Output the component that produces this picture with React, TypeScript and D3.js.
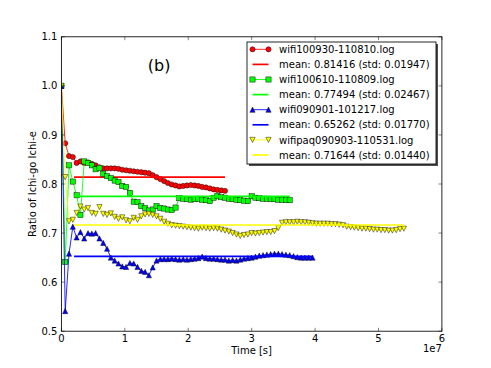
import React, { useRef, useEffect } from 'react';
import * as d3 from 'd3';

// samples are taken every SAMPLE_STEP seconds, starting at t = 0
const SAMPLE_STEP = 6e5;
const MEAN_FROM = 2e6;

const seriesNames = ['wifi100930-110810.log', 'wifi100610-110809.log', 'wifi090901-101217.log', 'wifipaq090903-110531.log'];
const meanValues = [0.81416, 0.77494, 0.65262, 0.71644];
const stdValues = [0.01947, 0.02467, 0.0177, 0.0144];

const wifi100930 = [1.0, 0.883, 0.857, 0.855, 0.843, 0.846, 0.843, 0.844, 0.841, 0.838, 0.834, 0.832, 0.832, 0.832, 0.832, 0.831, 0.829, 0.828, 0.827, 0.826, 0.825, 0.824, 0.823, 0.822, 0.818, 0.814, 0.81, 0.806, 0.802, 0.799, 0.797, 0.795, 0.796, 0.797, 0.798, 0.797, 0.796, 0.794, 0.793, 0.791, 0.789, 0.788, 0.787, 0.786];
const wifi100610 = [1.0, 0.641, 0.838, 0.805, 0.777, 0.737, 0.846, 0.843, 0.838, 0.83, 0.833, 0.821, 0.816, 0.812, 0.807, 0.804, 0.796, 0.794, 0.782, 0.764, 0.763, 0.755, 0.751, 0.746, 0.748, 0.755, 0.751, 0.75, 0.748, 0.747, 0.752, 0.771, 0.77, 0.769, 0.768, 0.769, 0.77, 0.768, 0.767, 0.765, 0.772, 0.776, 0.773, 0.772, 0.77, 0.769, 0.768, 0.767, 0.766, 0.765, 0.775, 0.772, 0.771, 0.77, 0.77, 0.769, 0.769, 0.768, 0.768, 0.767, 0.767];
const wifi090901 = [1.0, 0.541, 0.658, 0.713, 0.691, 0.702, 0.689, 0.7, 0.699, 0.7, 0.689, 0.68, 0.668, 0.65, 0.644, 0.638, 0.632, 0.631, 0.639, 0.638, 0.631, 0.623, 0.621, 0.614, 0.63, 0.644, 0.647, 0.647, 0.647, 0.648, 0.647, 0.646, 0.647, 0.646, 0.647, 0.648, 0.649, 0.652, 0.649, 0.648, 0.648, 0.647, 0.646, 0.646, 0.644, 0.645, 0.644, 0.646, 0.648, 0.649, 0.65, 0.652, 0.654, 0.655, 0.656, 0.657, 0.658, 0.658, 0.657, 0.656, 0.655, 0.653, 0.651, 0.65, 0.65, 0.65, 0.65];
const wifipaq090903 = [1.0, 0.814, 0.724, 0.727, 0.741, 0.754, 0.748, 0.751, 0.741, 0.739, 0.753, 0.739, 0.737, 0.74, 0.733, 0.729, 0.732, 0.726, 0.724, 0.731, 0.727, 0.734, 0.738, 0.739, 0.737, 0.734, 0.729, 0.723, 0.719, 0.716, 0.715, 0.714, 0.713, 0.712, 0.711, 0.71, 0.709, 0.711, 0.71, 0.709, 0.71, 0.709, 0.707, 0.705, 0.703, 0.7, 0.697, 0.694, 0.696, 0.697, 0.7, 0.699, 0.7, 0.701, 0.702, 0.702, 0.704, 0.71, 0.721, 0.722, 0.722, 0.722, 0.723, 0.722, 0.722, 0.721, 0.72, 0.719, 0.719, 0.719, 0.719, 0.718, 0.718, 0.717, 0.716, 0.713, 0.712, 0.711, 0.71, 0.709, 0.709, 0.708, 0.707, 0.707, 0.706, 0.706, 0.705, 0.705, 0.706, 0.708, 0.709];

const seriesValues = [wifi100930, wifi100610, wifi090901, wifipaq090903];
const xTicks = [0, 1e7, 2e7, 3e7, 4e7, 5e7, 6e7];
const yTicks = [0.5, 0.6, 0.7, 0.8, 0.9, 1.0, 1.1];

const colors = ['#ff0000', '#00ff00', '#0000ff', '#ffff00'];
const shapes = ['circle', 'square', 'up', 'down'];

const FONT = 'DejaVu Sans, sans-serif';

function marker(g: any, shape: string, cx: number, cy: number, fill: string) {
  const s = 2.6;
  let el;
  if (shape === 'circle') el = g.append('circle').attr('cx', cx).attr('cy', cy).attr('r', s);
  else if (shape === 'square') el = g.append('rect').attr('x', cx - s).attr('y', cy - s).attr('width', 2 * s).attr('height', 2 * s);
  else if (shape === 'up') el = g.append('path').attr('d', `M${cx},${cy - s}L${cx - s},${cy + s}L${cx + s},${cy + s}Z`);
  else el = g.append('path').attr('d', `M${cx},${cy + s}L${cx - s},${cy - s}L${cx + s},${cy - s}Z`);
  el.attr('fill', fill).attr('stroke', '#000').attr('stroke-width', 0.45);
}

export default function App() {
  const svgRef = useRef<SVGSVGElement>(null);

  useEffect(() => {
    if (!svgRef.current) return;
    const width = 491, height = 368;
    const left = 61.4, right = 441.9, top = 36.8, bottom = 331.2;
    const svg = d3.select(svgRef.current);
    svg.selectAll('*').remove();
    svg.attr('width', width).attr('height', height);
    svg.append('rect').attr('width', width).attr('height', height).attr('fill', '#fff');

    const x = d3.scaleLinear().domain([0, 6e7]).range([left, right]);
    const y = d3.scaleLinear().domain([0.5, 1.1]).range([bottom, top]);

    svg.append('clipPath').attr('id', 'plot-clip').append('rect')
      .attr('x', left).attr('y', top).attr('width', right - left).attr('height', bottom - top);
    const plot = svg.append('g').attr('clip-path', 'url(#plot-clip)');

    const line = d3.line<number>().x((_, i) => x(i * SAMPLE_STEP)).y((d) => y(d));

    seriesValues.forEach((vals, si) => {
      plot.append('path').attr('d', line(vals)).attr('fill', 'none').attr('stroke', colors[si]).attr('stroke-width', 0.85);
      const mg = plot.append('g');
      vals.forEach((v, i) => marker(mg, shapes[si], x(i * SAMPLE_STEP), y(v), colors[si]));
      const tEnd = (vals.length - 1) * SAMPLE_STEP;
      plot.append('line').attr('x1', x(MEAN_FROM)).attr('x2', x(tEnd))
        .attr('y1', y(meanValues[si])).attr('y2', y(meanValues[si]))
        .attr('stroke', colors[si]).attr('stroke-width', 1.7);
    });

    // frame
    svg.append('rect').attr('x', left).attr('y', top).attr('width', right - left).attr('height', bottom - top)
      .attr('fill', 'none').attr('stroke', '#000').attr('stroke-width', 0.85);

    const tl = 3.4;
    xTicks.forEach((t) => {
      const px = x(t);
      svg.append('line').attr('x1', px).attr('x2', px).attr('y1', bottom).attr('y2', bottom - tl).attr('stroke', '#000').attr('stroke-width', 0.5);
      svg.append('line').attr('x1', px).attr('x2', px).attr('y1', top).attr('y2', top + tl).attr('stroke', '#000').attr('stroke-width', 0.5);
      svg.append('text').attr('x', px).attr('y', bottom + 11).attr('text-anchor', 'middle')
        .attr('font-family', FONT).attr('font-size', '10px').text(d3.format('d')(t / 1e7));
    });
    yTicks.forEach((t) => {
      const py = y(t);
      svg.append('line').attr('x1', left).attr('x2', left + tl).attr('y1', py).attr('y2', py).attr('stroke', '#000').attr('stroke-width', 0.5);
      svg.append('line').attr('x1', right).attr('x2', right - tl).attr('y1', py).attr('y2', py).attr('stroke', '#000').attr('stroke-width', 0.5);
      svg.append('text').attr('x', left - 4).attr('y', py).attr('dy', '0.36em').attr('text-anchor', 'end')
        .attr('font-family', FONT).attr('font-size', '10px').text(d3.format('.1f')(t));
    });

    svg.append('text').attr('x', (left + right) / 2).attr('y', 354).attr('text-anchor', 'middle')
      .attr('font-family', FONT).attr('font-size', '10px').text('Time [s]');
    svg.append('text').attr('x', right).attr('y', 352).attr('text-anchor', 'end')
      .attr('font-family', FONT).attr('font-size', '10px').text('1e7');
    svg.append('text').attr('transform', `translate(36,${(top + bottom) / 2}) rotate(-90)`).attr('text-anchor', 'middle')
      .attr('font-family', FONT).attr('font-size', '10px').text('Ratio of Ichi-go Ichi-e');
    svg.append('text').attr('x', x(1.54e7)).attr('y', y(1.03)).attr('text-anchor', 'middle')
      .attr('font-family', FONT).attr('font-size', '16px').text('(b)');

    // legend
    const lx = 247, ly = 42, lw = 189, lh = 122;
    svg.append('rect').attr('x', lx + 2).attr('y', ly + 2).attr('width', lw).attr('height', lh).attr('fill', '#4d4d4d');
    svg.append('rect').attr('x', lx).attr('y', ly).attr('width', lw).attr('height', lh)
      .attr('fill', '#fff').attr('stroke', '#000').attr('stroke-width', 0.85);
    const lg = svg.append('g');
    seriesNames.forEach((name, si) => {
      const rows = [name, `mean: ${meanValues[si].toFixed(5)} (std: ${stdValues[si].toFixed(5)})`];
      rows.forEach((label, ri) => {
        const ry = 49.3 + (si * 2 + ri) * 15.1;
        lg.append('line').attr('x1', 252.5).attr('x2', 268.5).attr('y1', ry).attr('y2', ry)
          .attr('stroke', colors[si]).attr('stroke-width', ri === 0 ? 0.85 : 1.7);
        if (ri === 0) {
          marker(lg, shapes[si], 252.5, ry, colors[si]);
          marker(lg, shapes[si], 268.5, ry, colors[si]);
        }
        lg.append('text').attr('x', 279).attr('y', ry).attr('dy', '0.36em')
          .attr('font-family', FONT).attr('font-size', '10px').text(label);
      });
    });
  }, []);

  return (
    <div style={{ position: 'absolute', left: 0, top: 0 }}>
      <svg ref={svgRef} style={{ display: 'block' }} />
    </div>
  );
}
